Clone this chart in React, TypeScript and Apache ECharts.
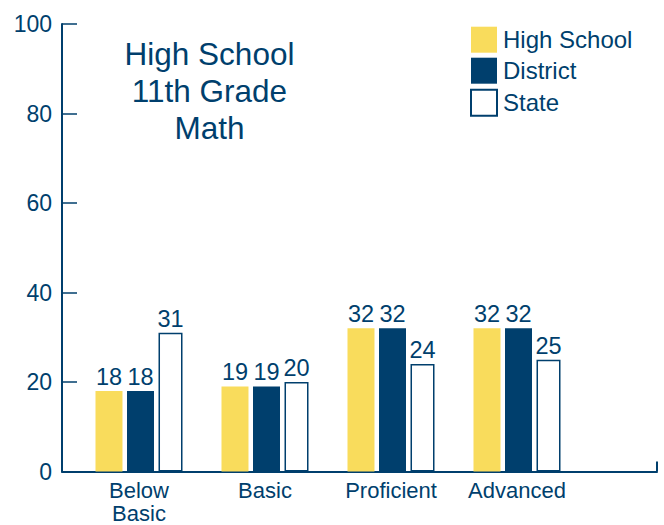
import React, { useEffect, useRef } from "react";
import * as echarts from "echarts";

const categories = ["Below\nBasic", "Basic", "Proficient", "Advanced"];
const seriesNames = ["High School", "District", "State"];
const highSchool = [18, 19, 32, 32];
const district = [18, 19, 32, 32];
const state = [31, 20, 24, 25];
const yMin = 0;
const yMax = 100;
const yInterval = 20;
const titleLines = ["High School", "11th Grade", "Math"];

const NAVY = "#003f6d";
const YELLOW = "#f9dc5c";
const FONT = "'Liberation Sans', Arial, Helvetica, sans-serif";

export default function App() {
  const ref = useRef<HTMLDivElement>(null);

  useEffect(() => {
    if (!ref.current) return;
    const chart = echarts.init(ref.current, undefined, { renderer: "svg" });
    const labelCommon = {
      show: true,
      position: "top" as const,
      distance: 2,
      fontSize: 23.5,
      color: NAVY,
      fontFamily: FONT,
    };
    chart.setOption({
      animation: false,
      backgroundColor: "#ffffff",
      grid: [
        {
          left: 76,
          right: 84,
          top: 24,
          bottom: 53.5,
          containLabel: false,
          outerBoundsMode: "none",
        },
        {
          left: 62,
          right: 7,
          top: 24,
          bottom: 53.5,
          containLabel: false,
          outerBoundsMode: "none",
        },
      ],
      legend: {
        orient: "vertical",
        left: 465,
        top: 21.7,
        itemWidth: 26,
        itemHeight: 26,
        itemGap: 5,
        icon: "rect",
        data: seriesNames,
        textStyle: {
          fontSize: 24,
          color: NAVY,
          fontFamily: FONT,
          padding: [0, 0, 0, 1],
        },
      },
      graphic: [
        {
          type: "text",
          x: 209.5,
          y: 35,
          style: {
            text: titleLines.join("\n"),
            fontSize: 31.5,
            lineHeight: 37,
            fill: NAVY,
            align: "center",
            verticalAlign: "top",
            fontFamily: FONT,
          },
        },
      ],
      xAxis: [
        {
          type: "category",
          gridIndex: 0,
          data: categories,
          axisLine: { show: false },
          axisTick: { show: false },
          axisLabel: {
            interval: 0,
            fontSize: 22,
            lineHeight: 23,
            margin: 7,
            color: NAVY,
            fontFamily: FONT,
          },
        },
        {
          type: "value",
          gridIndex: 1,
          min: 0,
          max: 1,
          interval: 1,
          axisLine: { show: true, lineStyle: { color: NAVY, width: 2 } },
          axisTick: {
            show: true,
            inside: true,
            length: 10,
            lineStyle: { color: NAVY, width: 2 },
          },
          axisLabel: { show: false },
          splitLine: { show: false },
        },
      ],
      yAxis: [
        {
          type: "value",
          gridIndex: 0,
          min: yMin,
          max: yMax,
          show: false,
          splitLine: { show: false },
        },
        {
          type: "value",
          gridIndex: 1,
          min: yMin,
          max: yMax,
          interval: yInterval,
          axisLine: { show: true, lineStyle: { color: NAVY, width: 2 } },
          axisTick: {
            show: true,
            inside: true,
            length: 15,
            lineStyle: { color: NAVY, width: 1.5 },
          },
          axisLabel: {
            fontSize: 23,
            color: NAVY,
            margin: 10,
            fontFamily: FONT,
          },
          splitLine: { show: false },
        },
      ],
      series: [
        {
          type: "bar",
          name: seriesNames[0],
          xAxisIndex: 0,
          yAxisIndex: 0,
          data: highSchool,
          barWidth: 27,
          barGap: "16.7%",
          itemStyle: { color: YELLOW },
          label: labelCommon,
        },
        {
          type: "bar",
          name: seriesNames[1],
          xAxisIndex: 0,
          yAxisIndex: 0,
          data: district,
          barWidth: 27,
          barGap: "16.7%",
          itemStyle: { color: NAVY },
          label: labelCommon,
        },
        {
          type: "bar",
          name: seriesNames[2],
          xAxisIndex: 0,
          yAxisIndex: 0,
          data: state,
          barWidth: 24,
          barGap: "16.7%",
          itemStyle: { color: "#ffffff", borderColor: NAVY, borderWidth: 1.5 },
          label: labelCommon,
        },
      ],
    });
    return () => chart.dispose();
  }, []);

  return (
    <div
      ref={ref}
      style={{ position: "absolute", left: 0, top: 0, width: 664, height: 525 }}
    />
  );
}
